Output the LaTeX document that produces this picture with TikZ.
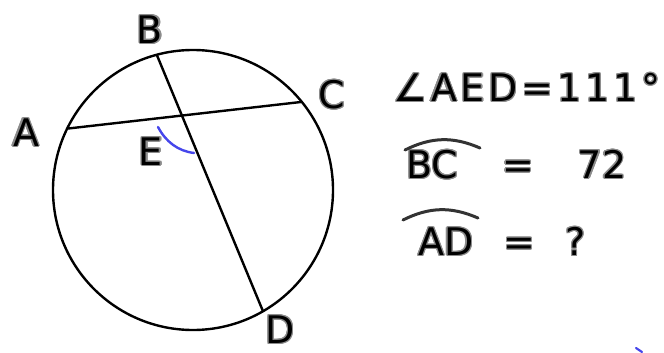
\documentclass[tikz,border=0pt]{standalone}
\usepackage{fontspec}
\setmainfont{DejaVu Sans}
\newfontfamily\spacedfont[LetterSpace=10]{DejaVu Sans}
\usepackage{contour}
\contourlength{1.2pt}
\usetikzlibrary{calc}
\definecolor{myblue}{RGB}{70,70,235}
\definecolor{halo}{RGB}{140,140,140}
\newcommand{\hw}[1]{\contour{halo}{#1}}

\begin{document}
\begin{tikzpicture}[x=1pt,y=-1pt,line width=2.4pt,
    hand/.style={font=\fontsize{38}{44}\selectfont,inner sep=0pt},
    arcmark/.style={line width=3pt,draw=black!80,line cap=round}]
  \useasboundingbox (0,0) rectangle (664,353);
  % circle with the two chords
  \coordinate (O) at (193,190);
  \draw (O) circle[radius=140pt];
  \coordinate (A) at ([shift={(154:140pt)}]O);
  \coordinate (B) at ([shift={(105:140pt)}]O);
  \coordinate (C) at ([shift={(39:140pt)}]O);
  \coordinate (D) at ([shift={(-60:140pt)}]O);
  \coordinate (E) at (intersection of A--C and B--D);
  \draw (A)--(C);
  \draw (B)--(D);
  % point labels
  \node[hand] (la) at (26,133) {\hw{A}};
  \node[hand] (lb) at (150,30) {\hw{B}};
  \node[hand] (lc) at (332,95) {\hw{C}};
  \node[hand] (ld) at (280,330) {\hw{D}};
  \node[hand] (le) at (151,152) {\hw{E}};
  % angle mark at E
  \draw[myblue,line width=2.4pt,line cap=round](158,127) .. controls (166,142) and (178,151) .. (194,153);
  % given data
  \node[hand,anchor=west] (aed) at (392,88) {\spacedfont\hw{∠AED=111°}};
  \node[hand,anchor=west] (bc) at (405,165) {\hw{BC}\hspace{44pt}\hw{=}\hspace{44pt}\hw{72}};
  \node[hand,anchor=west] (ad) at (417,242) {\hw{AD}\hspace{30pt}\hw{=}\hspace{30pt}\hw{?}};
  % arcs over the letters
  \draw[arcmark] ($(bc.west)+(0,-15)$) to[bend left=25] ++(75,-2);
  \draw[arcmark] ($(ad.west)+(-14,-22)$) to[bend left=25] ++(75,-2);
  % stray mark
  \draw[myblue,line width=2.2pt,line cap=round](636,348)--(642,352);
\end{tikzpicture}
\end{document}
